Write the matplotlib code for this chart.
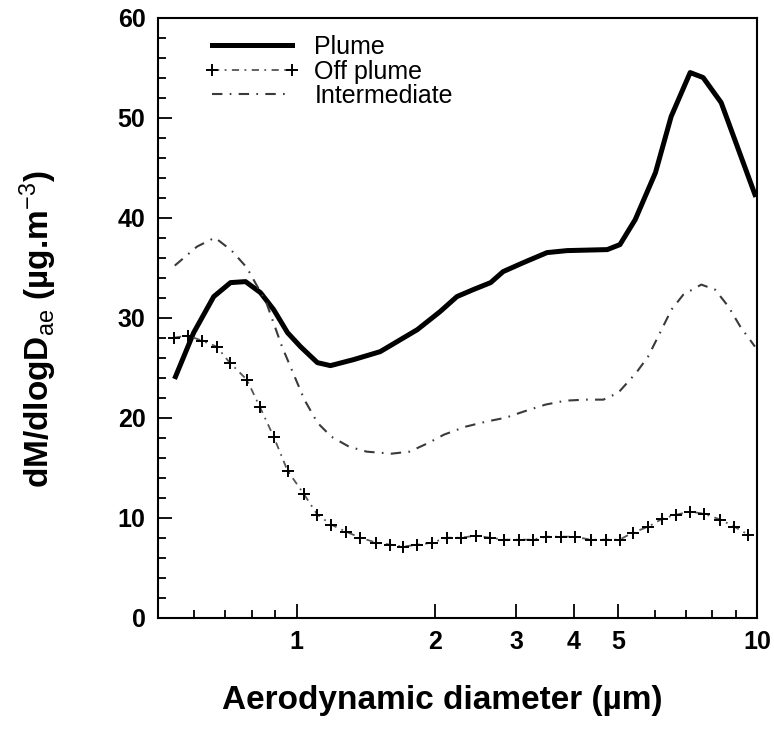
import numpy as np
import matplotlib
matplotlib.use('Agg')
from matplotlib import pyplot as plt
from matplotlib.ticker import FixedLocator, NullFormatter

plt.rcParams['font.family'] = ['Liberation Sans', 'DejaVu Sans']
plt.rcParams['mathtext.fontset'] = 'custom'
plt.rcParams['mathtext.rm'] = 'Liberation Sans'
plt.rcParams['mathtext.default'] = 'rm'

# Plume
plume_d = [0.546, 0.598, 0.661, 0.719, 0.775, 0.835, 0.892, 0.956, 1.02, 1.11,
           1.185, 1.33, 1.52, 1.83, 2.05, 2.23, 2.42, 2.64, 2.81, 3.11,
           3.50, 3.87, 4.73, 5.04, 5.44, 6.02, 6.51, 7.16, 7.64, 8.36, 9.9]
plume_v = [24.1, 28.5, 32.1, 33.5, 33.6, 32.5, 30.8, 28.5, 27.1, 25.5,
           25.2, 25.8, 26.6, 28.8, 30.6, 32.1, 32.8, 33.5, 34.6, 35.5,
           36.5, 36.7, 36.8, 37.3, 39.8, 44.5, 50.1, 54.5, 54.0, 51.5, 42.3]

# Off plume
off_d = [0.542, 0.581, 0.623, 0.671, 0.716, 0.780, 0.832, 0.892, 0.956, 1.036,
         1.11, 1.19, 1.28, 1.376, 1.49, 1.60, 1.70, 1.83, 1.97, 2.12,
         2.28, 2.45, 2.63, 2.82, 3.04, 3.26, 3.49, 3.76, 4.02, 4.35,
         4.69, 5.03, 5.37, 5.81, 6.23, 6.68, 7.16, 7.67, 8.33, 8.93, 9.57]
off_v = [28.0, 28.2, 27.7, 27.1, 25.5, 23.8, 21.1, 18.1, 14.7, 12.4,
         10.3, 9.3, 8.6, 8.0, 7.5, 7.3, 7.1, 7.3, 7.5, 8.0,
         8.0, 8.2, 8.0, 7.8, 7.8, 7.8, 8.1, 8.1, 8.1, 7.8,
         7.8, 7.8, 8.5, 9.1, 9.9, 10.3, 10.6, 10.4, 9.8, 9.1, 8.3]

# Intermediate
int_d = [0.544, 0.608, 0.665, 0.723, 0.78, 0.86, 0.93, 1.04, 1.11, 1.19,
         1.30, 1.42, 1.61, 1.76, 1.94, 2.09, 2.33, 2.58, 2.85, 3.11,
         3.47, 3.84, 4.24, 4.64, 5.0, 5.47, 5.80, 6.10, 6.52, 6.92,
         7.57, 8.11, 8.67, 9.2, 9.9]
int_v = [35.2, 37.1, 38.0, 36.7, 35.0, 31.5, 27.1, 21.8, 19.5, 18.1,
         17.1, 16.6, 16.4, 16.6, 17.5, 18.3, 19.1, 19.6, 20.0, 20.6,
         21.3, 21.7, 21.8, 21.8, 22.5, 24.5, 26.1, 28.1, 30.8, 32.3,
         33.3, 32.8, 31.1, 29.1, 27.1]

x_major = [1, 2, 3, 4, 5, 10]
x_minor = [0.6, 0.7, 0.8, 0.9, 6, 7, 8, 9]

fig = plt.figure(figsize=(7.74, 7.31), dpi=100)
ax = fig.add_axes([0.204, 0.155, 0.774, 0.821])

ax.plot(plume_d, plume_v, color='black', lw=3.6, solid_joinstyle='round',
        label='Plume')
ax.plot(off_d, off_v, color='#555555', lw=1.3, ls=(0, (4, 3, 1, 3)),
        marker='+', ms=9, mew=1.4, mec='black', label='Off plume')
ax.plot(int_d, int_v, color='#3a3a3a', lw=1.5, ls=(0, (5, 3.5, 0.8, 3.5)),
        label='Intermediate')

ax.set_xscale('log')
ax.set_xlim(0.5, 10)
ax.set_ylim(0, 60)

ax.xaxis.set_major_locator(FixedLocator(x_major))
ax.xaxis.set_minor_locator(FixedLocator(x_minor))
ax.xaxis.set_major_formatter(plt.FixedFormatter([str(v) for v in x_major]))
ax.xaxis.set_minor_formatter(NullFormatter())
ax.set_yticks(np.arange(0, 61, 10))
ax.set_yticks(np.arange(0, 61, 2), minor=True)

ax.tick_params(which='both', direction='in', top=False, right=False,
               width=1.3, labelsize=18)
ax.tick_params(which='major', length=10, pad=9)
ax.tick_params(which='minor', length=6)
for lab in ax.get_xticklabels() + ax.get_yticklabels():
    lab.set_fontweight('bold')
for sp in ax.spines.values():
    sp.set_linewidth(1.5)

ax.set_xlabel('Aerodynamic diameter (µm)', fontsize=24, fontweight='bold')
ax.xaxis.set_label_coords(0.475, -0.112)
ax.set_ylabel(r'dM/dlogD$_{ae}$ (µg.m$^{-3}$)', fontsize=24,
              fontweight='bold')
ax.yaxis.set_label_coords(-0.165, 0.48)

ax.legend(loc='upper left', bbox_to_anchor=(0.04, 1.008), frameon=False,
          fontsize=18, handlelength=3.8, numpoints=2, labelspacing=0.02,
          handletextpad=0.6)

fig.savefig('out.png', dpi=100)
